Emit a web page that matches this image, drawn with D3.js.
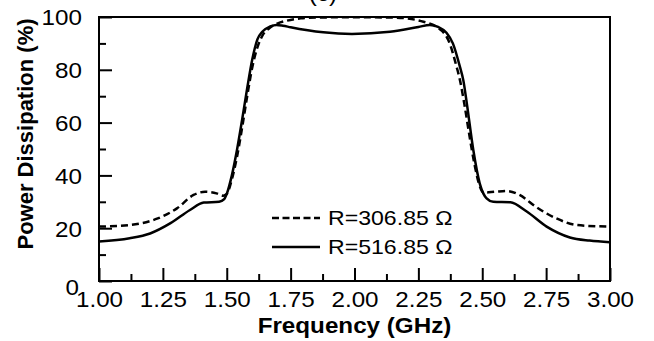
<!DOCTYPE html>
<html><head><meta charset="utf-8">
<script src="https://cdn.jsdelivr.net/npm/d3@7/dist/d3.min.js"></script>
<style>html,body{margin:0;padding:0;background:#fff;}svg{display:block;}</style>
</head><body>
<script>
// ---- data ----
const xTicks = [1.00,1.25,1.50,1.75,2.00,2.25,2.50,2.75,3.00];
const xMinor = [1.125,1.375,1.625,1.875,2.125,2.375,2.625,2.875];
const yTicks = [0,20,40,60,80,100];
const yMinor = [10,30,50,70,90];
const seriesNames = ["R=306.85 \u03a9","R=516.85 \u03a9"];

const freqDashed = [1.00,1.12,1.23,1.305,1.37,1.415,1.46,1.486,1.50,1.52,1.54,1.56,1.58,1.60,1.62,1.64,1.67,1.70,1.735,1.79,1.85,2.00,2.15,2.20,2.27,2.32,2.367,2.40,2.413,2.43,2.45,2.47,2.49,2.505,2.55,2.595,2.646,2.71,2.79,2.87,3.00];
const powerDashed = [20.6,21.2,23.7,27.5,32.6,33.8,33.2,32.3,33,38.5,47,58,70,81,88.5,93,96,97.6,98.6,99.5,99.8,99.9,99.8,99.5,98.2,96.3,91.3,81,76,67,55,44,36,33.5,33.8,34.1,32.6,28.1,23.7,21.2,20.6];

const freqSolid = [1.00,1.12,1.20,1.28,1.356,1.41,1.47,1.49,1.50,1.52,1.54,1.56,1.58,1.60,1.62,1.64,1.67,1.695,1.72,1.75,1.878,1.99,2.139,2.25,2.295,2.327,2.36,2.385,2.413,2.426,2.44,2.465,2.49,2.505,2.517,2.543,2.61,2.674,2.752,2.843,2.92,3.00];
const powerSolid = [15,16.2,18,21.9,26.9,29.7,30,31,33,40,49.6,61,73,84,91.5,94.5,96.4,97,96.7,96.1,94.2,93.6,94.4,96.2,97,96.3,94,90,81,76,67,49.6,37,33,31.3,30,29.8,26.3,20.6,16.5,15.3,14.7];

// ---- drawing ----
const W = 654, H = 341;
const svg = d3.select("body").append("svg").attr("width", W).attr("height", H);
const x = d3.scaleLinear().domain([1,3]).range([99,610]);
const y = d3.scaleLinear().domain([0,100]).range([281,17]);
const font = "'Liberation Sans', Arial, sans-serif";
const stretch = 1.1;
function widen(sel){
  sel.each(function(){
    const n = this.getComputedTextLength();
    d3.select(this).attr("textLength", n*stretch).attr("lengthAdjust","spacingAndGlyphs");
  });
}

// title (clipped)
svg.append("text").attr("x", 323).attr("y", 1).attr("text-anchor","middle")
  .attr("font-family", font).attr("font-size", 22).text("(c)").call(widen);

// curves
const line = d3.line().x(d => x(d[0])).y(d => y(d[1])).curve(d3.curveMonotoneX);
svg.append("path").datum(d3.zip(freqDashed, powerDashed)).attr("d", line)
  .attr("fill","none").attr("stroke","#000").attr("stroke-width",2.5).attr("stroke-dasharray","7,4");
svg.append("path").datum(d3.zip(freqSolid, powerSolid)).attr("d", line)
  .attr("fill","none").attr("stroke","#000").attr("stroke-width",2.5);

// frame
svg.append("rect").attr("x", x(1)).attr("y", y(100)).attr("width", x(3)-x(1)).attr("height", y(0)-y(100))
  .attr("fill","none").attr("stroke","#000").attr("stroke-width",2);

// axes
function styleAxis(g){
  g.select(".domain").remove();
  g.selectAll(".tick line").attr("stroke","#000").attr("stroke-width",2);
  g.selectAll(".tick text").attr("font-family", font).attr("font-size", 22).attr("fill","#000");
}
const gx = svg.append("g").attr("transform",`translate(0,${y(0)})`)
  .call(d3.axisBottom(x).tickValues(xTicks).tickFormat(d3.format(".2f")).tickSizeInner(-13).tickSizeOuter(0).tickPadding(10.5));
styleAxis(gx);
gx.selectAll(".tick text").call(widen);
const gxm = svg.append("g").attr("transform",`translate(0,${y(0)})`)
  .call(d3.axisBottom(x).tickValues(xMinor).tickFormat("").tickSizeInner(-7).tickSizeOuter(0));
styleAxis(gxm);

const gy = svg.append("g").attr("transform",`translate(${x(1)},0)`)
  .call(d3.axisLeft(y).tickValues(yTicks).tickFormat(d3.format("d")).tickSizeInner(-13).tickSizeOuter(0).tickPadding(17));
styleAxis(gy);
gy.selectAll(".tick text").attr("dy", d => d === 0 ? "0.6em" : "0.36em")
  .attr("x", d => d === 0 ? -20 : -17).call(widen);
const gym = svg.append("g").attr("transform",`translate(${x(1)},0)`)
  .call(d3.axisLeft(y).tickValues(yMinor).tickFormat("").tickSizeInner(-7).tickSizeOuter(0));
styleAxis(gym);

// axis titles
svg.append("text").attr("x", (x(1)+x(3))/2).attr("y", 333).attr("text-anchor","middle")
  .attr("font-family", font).attr("font-size", 22).attr("font-weight","bold").text("Frequency (GHz)").call(widen);
svg.append("text").attr("transform","translate(33,134) rotate(-90)").attr("text-anchor","middle")
  .attr("font-family", font).attr("font-size", 22).attr("font-weight","bold").text("Power Dissipation (%)");

// legend
const leg = [{dash:"7,3.5", y:218, name:seriesNames[0]},{dash:null, y:247, name:seriesNames[1]}];
leg.forEach(l => {
  svg.append("line").attr("x1",272).attr("x2",320).attr("y1",l.y).attr("y2",l.y)
    .attr("stroke","#000").attr("stroke-width",2.5).attr("stroke-dasharray", l.dash);
  svg.append("text").attr("x",328).attr("y",l.y+7).attr("font-family",font).attr("font-size",21)
    .text(l.name).call(widen);
});
</script>
</body></html>
